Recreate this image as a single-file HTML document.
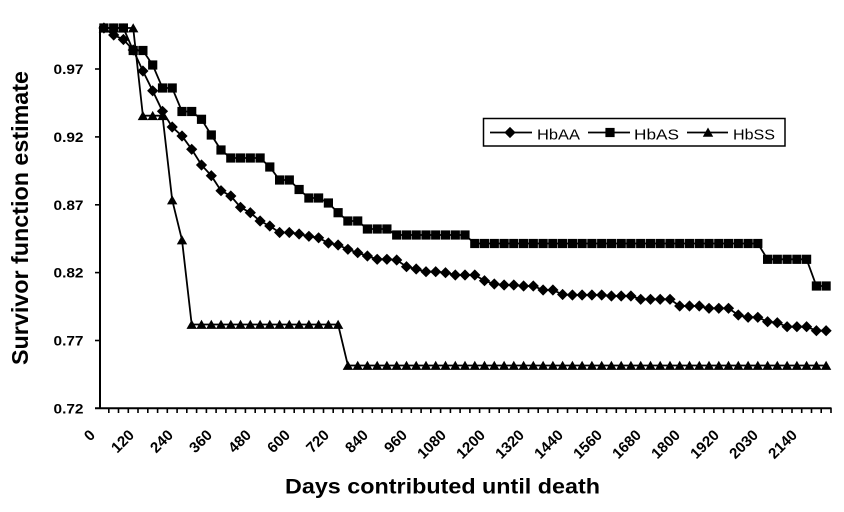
<!DOCTYPE html>
<html>
<head>
<meta charset="utf-8">
<style>
html,body{margin:0;padding:0;background:#fff;}
svg{display:block;}
text{font-family:"Liberation Sans",Arial,sans-serif;fill:#000;}
</style>
</head>
<body>
<svg width="844" height="512" viewBox="0 0 844 512" xmlns="http://www.w3.org/2000/svg">
<defs>
<marker id="md" markerUnits="userSpaceOnUse" markerWidth="12" markerHeight="12" refX="6" refY="6" overflow="visible"><path d="M6,0.4 L11.6,6 L6,11.6 L0.4,6Z" fill="#000"/></marker>
<marker id="ms" markerUnits="userSpaceOnUse" markerWidth="12" markerHeight="12" refX="6" refY="6" overflow="visible"><rect x="1.4" y="1.4" width="9.2" height="9.2" fill="#000"/></marker>
<marker id="mt" markerUnits="userSpaceOnUse" markerWidth="12" markerHeight="12" refX="6" refY="6" overflow="visible"><path d="M6,1.2 L11.2,10.4 L0.8,10.4Z" fill="#000"/></marker>
</defs>

<!-- axes -->
<line x1="100" y1="26" x2="100" y2="409" stroke="#000" stroke-width="2"/>
<line x1="95" y1="408.3" x2="831.5" y2="408.3" stroke="#000" stroke-width="2"/>

<!-- y ticks -->
<g stroke="#000" stroke-width="1.6">
<line x1="95" y1="69" x2="100" y2="69"/>
<line x1="95" y1="136.9" x2="100" y2="136.9"/>
<line x1="95" y1="204.8" x2="100" y2="204.8"/>
<line x1="95" y1="272.6" x2="100" y2="272.6"/>
<line x1="95" y1="340.5" x2="100" y2="340.5"/>
</g>
<g font-size="14" font-weight="bold" text-anchor="end">
<text x="83.5" y="74" textLength="30" lengthAdjust="spacingAndGlyphs">0.97</text>
<text x="83.5" y="141.9" textLength="30" lengthAdjust="spacingAndGlyphs">0.92</text>
<text x="83.5" y="209.8" textLength="30" lengthAdjust="spacingAndGlyphs">0.87</text>
<text x="83.5" y="277.6" textLength="30" lengthAdjust="spacingAndGlyphs">0.82</text>
<text x="83.5" y="345.5" textLength="30" lengthAdjust="spacingAndGlyphs">0.77</text>
<text x="83.5" y="413.3" textLength="30" lengthAdjust="spacingAndGlyphs">0.72</text>
</g>

<!-- x ticks -->
<path stroke="#000" stroke-width="1.6" fill="none" d="
M108.8,408V413 M118.5,408V413 M128.3,408V413 M138.0,408V413 M147.8,408V413 M157.6,408V413 M167.3,408V413 M177.1,408V413 M186.8,408V413 M196.6,408V413
M206.4,408V413 M216.1,408V413 M225.9,408V413 M235.6,408V413 M245.4,408V413 M255.2,408V413 M264.9,408V413 M274.7,408V413 M284.4,408V413 M294.2,408V413
M304.0,408V413 M313.7,408V413 M323.5,408V413 M333.2,408V413 M343.0,408V413 M352.8,408V413 M362.5,408V413 M372.3,408V413 M382.0,408V413 M391.8,408V413
M401.6,408V413 M411.3,408V413 M421.1,408V413 M430.8,408V413 M440.6,408V413 M450.4,408V413 M460.1,408V413 M469.9,408V413 M479.6,408V413 M489.4,408V413
M499.2,408V413 M508.9,408V413 M518.7,408V413 M528.4,408V413 M538.2,408V413 M548.0,408V413 M557.7,408V413 M567.5,408V413 M577.2,408V413 M587.0,408V413
M596.8,408V413 M606.5,408V413 M616.3,408V413 M626.0,408V413 M635.8,408V413 M645.6,408V413 M655.3,408V413 M665.1,408V413 M674.8,408V413 M684.6,408V413
M694.4,408V413 M704.1,408V413 M713.9,408V413 M723.6,408V413 M733.4,408V413 M743.2,408V413 M752.9,408V413 M762.7,408V413 M772.4,408V413 M782.2,408V413
M792.0,408V413 M801.7,408V413 M811.5,408V413 M821.2,408V413 M831.0,408V413"/>

<!-- x labels -->
<g font-size="15" font-weight="bold" text-anchor="end">
<text transform="translate(96,436) rotate(-45)">0</text>
<text transform="translate(135,436) rotate(-45)">120</text>
<text transform="translate(174,436) rotate(-45)">240</text>
<text transform="translate(213,436) rotate(-45)">360</text>
<text transform="translate(252,436) rotate(-45)">480</text>
<text transform="translate(291,436) rotate(-45)">600</text>
<text transform="translate(330,436) rotate(-45)">720</text>
<text transform="translate(369,436) rotate(-45)">840</text>
<text transform="translate(408,436) rotate(-45)">960</text>
<text transform="translate(447,436) rotate(-45)">1080</text>
<text transform="translate(486,436) rotate(-45)">1200</text>
<text transform="translate(525,436) rotate(-45)">1320</text>
<text transform="translate(564,436) rotate(-45)">1440</text>
<text transform="translate(603,436) rotate(-45)">1560</text>
<text transform="translate(642,436) rotate(-45)">1680</text>
<text transform="translate(681,436) rotate(-45)">1800</text>
<text transform="translate(720,436) rotate(-45)">1920</text>
<text transform="translate(759,436) rotate(-45)">2030</text>
<text transform="translate(798,436) rotate(-45)">2140</text>
</g>

<!-- titles -->
<text x="285" y="493.5" font-size="21" font-weight="bold" textLength="315" lengthAdjust="spacingAndGlyphs">Days contributed until death</text>
<text transform="translate(28,218) rotate(-90)" text-anchor="middle" font-size="23" font-weight="bold" textLength="294" lengthAdjust="spacingAndGlyphs">Survivor function estimate</text>

<!-- HbAA -->
<polyline fill="none" stroke="#000" stroke-width="1.8" marker-start="url(#md)" marker-mid="url(#md)" marker-end="url(#md)" points="103.9,28 113.7,35 123.4,39.5 133.2,50 142.9,71 152.7,90.8 162.5,111.3 172.2,127 182.0,136 191.7,149.3 201.5,165 211.3,175.7 221.0,190.7 230.8,196 240.5,207.3 250.3,212.7 260.1,221 269.8,226 279.6,232.5 289.3,232.5 299.1,234 308.9,236.3 318.6,237.8 328.4,243 338.1,245 347.9,249.3 357.7,252.7 367.4,256 377.2,259.3 386.9,259.3 396.7,260 406.5,266.7 416.2,269 426.0,271.7 435.7,271.7 445.5,272.7 455.3,275 465.0,275 474.8,275 484.5,280.7 494.3,284 504.1,285 513.8,285 523.6,286 533.3,286 543.1,290 552.9,290 562.6,294.5 572.4,295 582.1,295 591.9,295 601.7,295 611.4,296 621.2,296 630.9,296 640.7,299.3 650.5,299.3 660.2,299.3 670.0,299.3 679.7,306 689.5,306 699.3,306 709.0,308.3 718.8,308.3 728.5,308.3 738.3,315 748.1,317.3 757.8,317.3 767.6,321.7 777.3,322.7 787.1,326.7 796.9,326.7 806.6,326.7 816.4,330.7 826.1,330.7"/>

<!-- HbAS -->
<polyline fill="none" stroke="#000" stroke-width="1.8" marker-start="url(#ms)" marker-mid="url(#ms)" marker-end="url(#ms)" points="103.9,28 113.7,28 123.4,28 133.2,50.5 142.9,50.5 152.7,65 162.5,88 172.2,88 182.0,111.5 191.7,111.5 201.5,119.3 211.3,135 221.0,150 230.8,158 240.5,158 250.3,158 260.1,158 269.8,167 279.6,180 289.3,180 299.1,189.5 308.9,198 318.6,198 328.4,203 338.1,212.7 347.9,221 357.7,221 367.4,229 377.2,229 386.9,229 396.7,235 406.5,235 416.2,235 426.0,235 435.7,235 445.5,235 455.3,235 465.0,235 474.8,243.5 484.5,243.5 494.3,243.5 504.1,243.5 513.8,243.5 523.6,243.5 533.3,243.5 543.1,243.5 552.9,243.5 562.6,243.5 572.4,243.5 582.1,243.5 591.9,243.5 601.7,243.5 611.4,243.5 621.2,243.5 630.9,243.5 640.7,243.5 650.5,243.5 660.2,243.5 670.0,243.5 679.7,243.5 689.5,243.5 699.3,243.5 709.0,243.5 718.8,243.5 728.5,243.5 738.3,243.5 748.1,243.5 757.8,243.5 767.6,259.3 777.3,259.3 787.1,259.3 796.9,259.3 806.6,259.3 816.4,286 826.1,286"/>

<!-- HbSS -->
<polyline fill="none" stroke="#000" stroke-width="1.8" marker-start="url(#mt)" marker-mid="url(#mt)" marker-end="url(#mt)" points="103.9,28 113.7,28 123.4,28 133.2,28 142.9,115.7 152.7,115.7 162.5,115.7 172.2,200 182.0,240 191.7,324.5 201.5,324.5 211.3,324.5 221.0,324.5 230.8,324.5 240.5,324.5 250.3,324.5 260.1,324.5 269.8,324.5 279.6,324.5 289.3,324.5 299.1,324.5 308.9,324.5 318.6,324.5 328.4,324.5 338.1,324.5 347.9,365.5 357.7,365.5 367.4,365.5 377.2,365.5 386.9,365.5 396.7,365.5 406.5,365.5 416.2,365.5 426.0,365.5 435.7,365.5 445.5,365.5 455.3,365.5 465.0,365.5 474.8,365.5 484.5,365.5 494.3,365.5 504.1,365.5 513.8,365.5 523.6,365.5 533.3,365.5 543.1,365.5 552.9,365.5 562.6,365.5 572.4,365.5 582.1,365.5 591.9,365.5 601.7,365.5 611.4,365.5 621.2,365.5 630.9,365.5 640.7,365.5 650.5,365.5 660.2,365.5 670.0,365.5 679.7,365.5 689.5,365.5 699.3,365.5 709.0,365.5 718.8,365.5 728.5,365.5 738.3,365.5 748.1,365.5 757.8,365.5 767.6,365.5 777.3,365.5 787.1,365.5 796.9,365.5 806.6,365.5 816.4,365.5 826.1,365.5"/>

<!-- legend -->
<rect x="483.5" y="118.5" width="301.5" height="27.5" fill="#fff" stroke="#000" stroke-width="1.5"/>
<line x1="490" y1="132.5" x2="532" y2="132.5" stroke="#000" stroke-width="1.8"/>
<path d="M510,126.9 L515.6,132.5 L510,138.1 L504.4,132.5Z" fill="#000"/>
<text x="537" y="139.5" font-size="15" textLength="43" lengthAdjust="spacingAndGlyphs">HbAA</text>
<line x1="588" y1="132.5" x2="630" y2="132.5" stroke="#000" stroke-width="1.8"/>
<rect x="605.4" y="127.9" width="9.2" height="9.2" fill="#000"/>
<text x="634" y="139.5" font-size="15" textLength="45" lengthAdjust="spacingAndGlyphs">HbAS</text>
<line x1="687" y1="132.5" x2="728" y2="132.5" stroke="#000" stroke-width="1.8"/>
<path d="M708,127.5 L713.2,136.8 L702.8,136.8Z" fill="#000"/>
<text x="733" y="139.5" font-size="15" textLength="42" lengthAdjust="spacingAndGlyphs">HbSS</text>
</svg>
</body>
</html>
